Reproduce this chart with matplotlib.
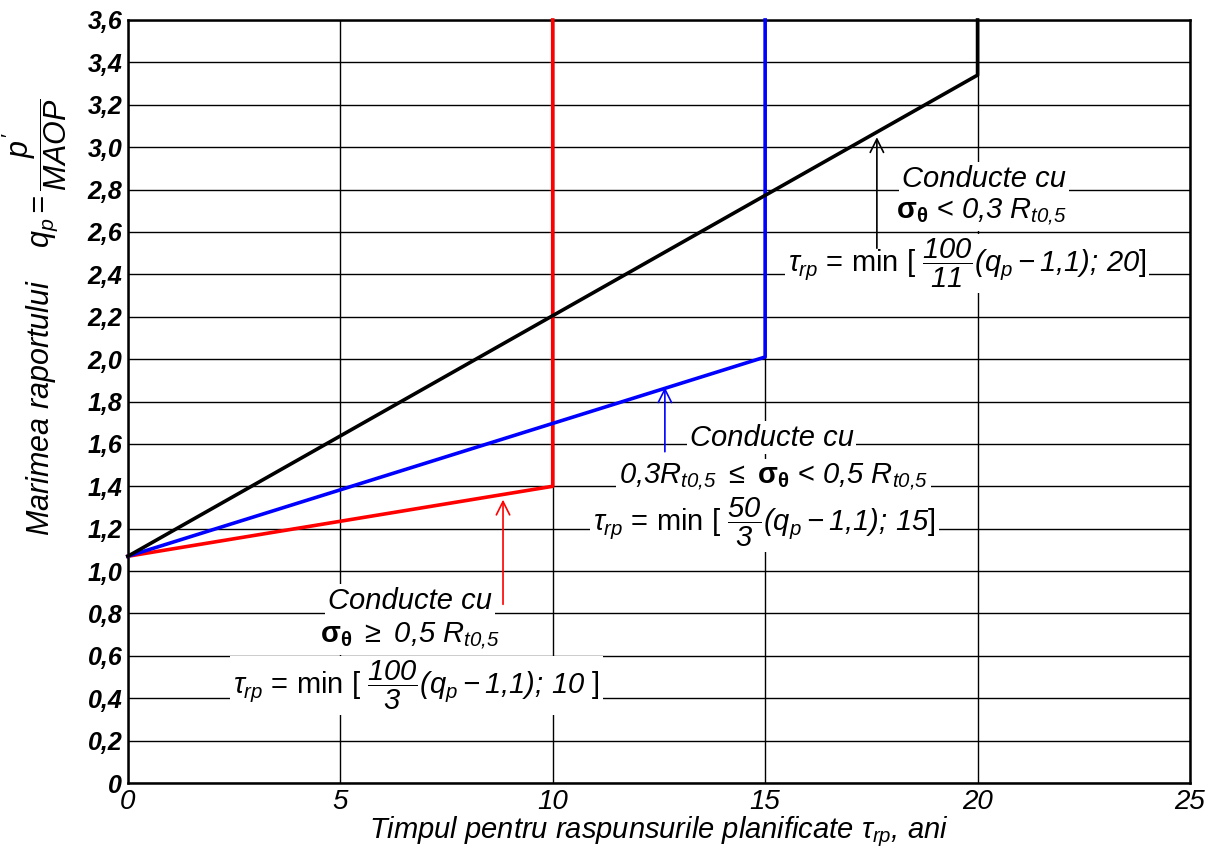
import numpy as np
import matplotlib
matplotlib.use("Agg")
import matplotlib.pyplot as plt

plt.rcParams['font.family'] = ['Liberation Sans', 'DejaVu Sans']
plt.rcParams['mathtext.fontset'] = 'custom'
# math parts in the figure are italic, except the bold sigma
plt.rcParams['mathtext.rm'] = 'Liberation Sans:italic'
plt.rcParams['mathtext.it'] = 'Liberation Sans:italic'
plt.rcParams['mathtext.bf'] = 'Liberation Sans:bold'

# polylines for the three pipe categories (tau_rp, q_p)
tau_low = [0, 10, 10]
q_low = [1.07, 1.40, 3.6]
tau_mid = [0, 15, 15]
q_mid = [1.07, 2.01, 3.6]
tau_high = [0, 20, 20]
q_high = [1.07, 3.34, 3.6]

xticks = [0, 5, 10, 15, 20, 25]
yticks = np.round(np.arange(0, 3.61, 0.2), 1)
ylabels = ['0' if v == 0 else f'{v:.1f}'.replace('.', ',') for v in yticks]

fig = plt.figure(figsize=(12.18, 8.57), dpi=100)
ax = fig.add_axes([0.105, 0.0863, 0.872, 0.8904])

ax.plot(tau_low, q_low, color='red', lw=2.6, clip_on=False, zorder=4)
ax.plot(tau_mid, q_mid, color='blue', lw=2.6, clip_on=False, zorder=4)
ax.plot(tau_high, q_high, color='black', lw=2.6, clip_on=False, zorder=4)

ax.set_xlim(0, 25)
ax.set_ylim(0, 3.6)
ax.set_xticks(xticks)
ax.set_xticklabels([str(v) for v in xticks], fontsize=20, style='italic')
ax.set_yticks(yticks)
ax.set_yticklabels(ylabels, fontsize=18, style='italic', fontweight='bold')
ax.tick_params(length=0, pad=4)
ax.grid(True, color='black', lw=1.0)
for s in ax.spines.values():
    s.set_linewidth(1.8)

ax.set_xlabel(r'Timpul pentru raspunsurile planificate $\tau_{rp}$, ani',
              fontsize=21, style='italic', labelpad=0)
ax.set_ylabel(r"Marimea raportului   $\ q_p = \dfrac{p'}{MAOP}$",
              fontsize=22, style='italic')
ax.yaxis.set_label_coords(-0.055, 0.61)

box = dict(facecolor='white', edgecolor='none', pad=2)
kw = dict(ha='center', va='center', fontsize=21, bbox=box, zorder=5)

# black: sigma < 0.3 R
ax.text(20.15, 2.85, 'Conducte cu', style='italic', **kw)
ax.text(20.1, 2.69, r'$\mathbf{\sigma_\theta}$ < $0{,}3\ R_{t0{,}5}$', **kw)
ax.text(19.75, 2.45, r'$\tau_{rp}$ = min [ $\dfrac{100}{11}(q_p-1{,}1);\,20$]', **kw)

# blue: 0.3R <= sigma < 0.5R
ax.text(15.15, 1.63, 'Conducte cu', style='italic', **kw)
ax.text(15.2, 1.44, r'$0{,}3R_{t0{,}5}\ \leq$ $\mathbf{\sigma_\theta}$ < $0{,}5\ R_{t0{,}5}$', **kw)
ax.text(14.98, 1.23, r'$\tau_{rp}$ = min [ $\dfrac{50}{3}(q_p-1{,}1);\,15$]', **kw)

# red: sigma >= 0.5R
ax.text(6.64, 0.86, 'Conducte cu', style='italic', **kw)
ax.text(6.64, 0.69, r'$\mathbf{\sigma_\theta}\ \geq$ $0{,}5\ R_{t0{,}5}$', **kw)
ax.text(6.8, 0.46, r'$\tau_{rp}$ = min [ $\dfrac{100}{3}(q_p-1{,}1);\,10$ ]', **kw)

arrow = dict(arrowstyle='->', lw=1.2, mutation_scale=24)
ax.annotate('', xy=(17.63, 3.06), xytext=(17.63, 2.51),
            arrowprops=dict(color='black', **arrow), zorder=6)
ax.annotate('', xy=(12.64, 1.88), xytext=(12.64, 1.55),
            arrowprops=dict(color='blue', **arrow), zorder=6)
ax.annotate('', xy=(8.83, 1.35), xytext=(8.83, 0.83),
            arrowprops=dict(color='red', **arrow), zorder=6)

fig.savefig('out.png', dpi=100)
